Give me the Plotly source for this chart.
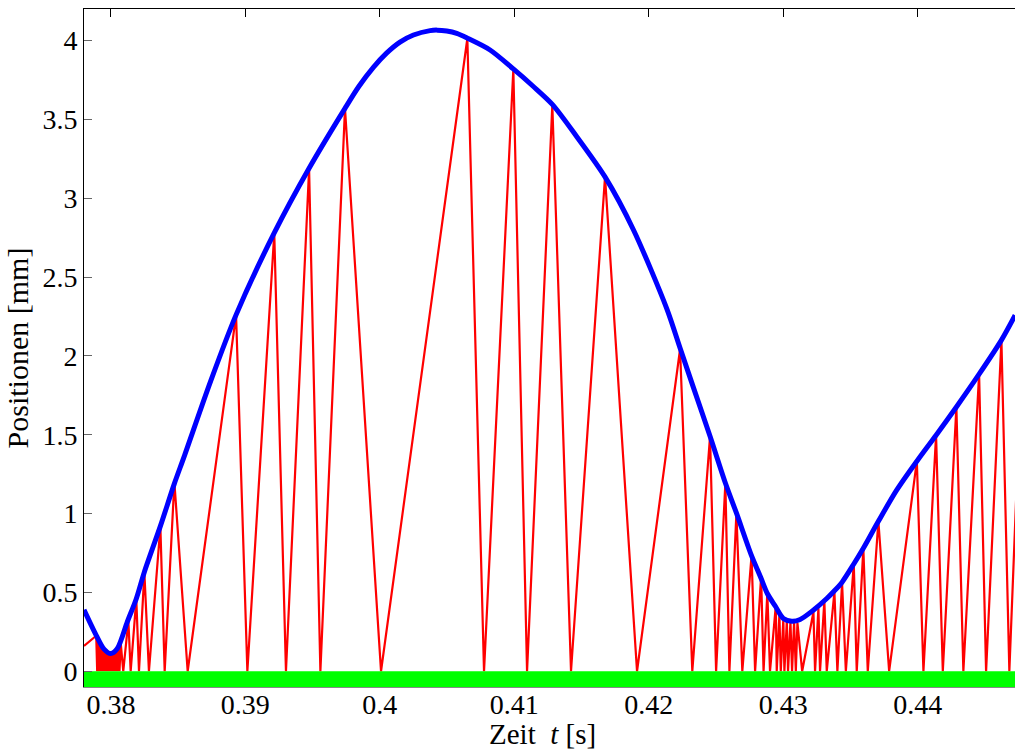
import plotly.graph_objects as go

# Blue curve: surface position (t [s], position [mm])
surface_t = [0.37800, 0.37891, 0.37949, 0.37999, 0.38048, 0.38122, 0.38189, 0.38249,
             0.38368, 0.38472, 0.38544, 0.38742, 0.38931, 0.39215, 0.39474, 0.39741,
             0.39845, 0.39952, 0.40050, 0.40150, 0.40250, 0.40374, 0.40426, 0.40498,
             0.40572, 0.40651, 0.40820, 0.40993, 0.41140, 0.41283, 0.41465, 0.41675,
             0.41886, 0.42134, 0.42233, 0.42332, 0.42456, 0.42570, 0.42652, 0.42763,
             0.42833, 0.42882, 0.42942, 0.43001, 0.43064, 0.43126, 0.43224, 0.43324,
             0.43381, 0.43438, 0.43525, 0.43596, 0.43708, 0.43845, 0.43994, 0.44137,
             0.44288, 0.44457, 0.44623, 0.44725]
surface_y = [0.39, 0.228, 0.14, 0.112, 0.144, 0.313, 0.46, 0.63,
             0.92, 1.19, 1.36, 1.84, 2.26, 2.78, 3.19, 3.57,
             3.71, 3.83, 3.92, 3.99, 4.035, 4.063, 4.066, 4.06,
             4.045, 4.015, 3.94, 3.82, 3.71, 3.595, 3.39, 3.135,
             2.80, 2.30, 2.05, 1.80, 1.49, 1.194, 1.004, 0.736,
             0.594, 0.493, 0.412, 0.335, 0.317, 0.328, 0.387, 0.461,
             0.51, 0.565, 0.68, 0.78, 0.951, 1.150, 1.332, 1.497,
             1.676, 1.884, 2.10, 2.258]

# Red zigzag: bouncing body (t [s], position [mm])
body_t = [0.37800, 0.37891, 0.37898,
          0.37905, 0.37912, 0.37920, 0.37927, 0.37935, 0.37942, 0.37950, 0.37957,
          0.37965, 0.37972, 0.37980, 0.37987, 0.37995, 0.38002, 0.38010, 0.38017,
          0.38025, 0.38032, 0.38040, 0.38047, 0.38055, 0.38064,
          0.38073, 0.38092, 0.38130, 0.38147, 0.38189, 0.38209, 0.38249, 0.38283,
          0.38368, 0.38400, 0.38472, 0.38571, 0.38931, 0.39015, 0.39215, 0.39302,
          0.39474, 0.39558, 0.39741, 0.40009, 0.40651, 0.40775, 0.40993, 0.41095,
          0.41283, 0.41422, 0.41675, 0.41913, 0.42233, 0.42324, 0.42456, 0.42501,
          0.42570, 0.42600, 0.42652, 0.42696, 0.42765, 0.42791, 0.42836, 0.42854,
          0.42882, 0.42902, 0.42945, 0.42952, 0.42972, 0.42982, 0.43001, 0.43009,
          0.43027, 0.43036, 0.43054, 0.43066, 0.43081, 0.43094, 0.43106, 0.43141,
          0.43225, 0.43237, 0.43262, 0.43274, 0.43306, 0.43324, 0.43381, 0.43403,
          0.43438, 0.43466, 0.43525, 0.43547, 0.43596, 0.43629, 0.43708, 0.43788,
          0.43994, 0.44043, 0.44137, 0.44187, 0.44288, 0.44340, 0.44457, 0.44509,
          0.44623, 0.44682, 0.44790]
body_y = [0.16, 0.225, 0.0,
          0.205, 0.0, 0.185, 0.0, 0.165, 0.0, 0.148, 0.0,
          0.133, 0.0, 0.122, 0.0, 0.115, 0.0, 0.112, 0.0,
          0.115, 0.0, 0.125, 0.0, 0.14, 0.0,
          0.18, 0.0, 0.32, 0.0, 0.457, 0.0, 0.626, 0.0,
          0.915, 0.0, 1.20, 0.0, 2.258, 0.0, 2.776, 0.0,
          3.184, 0.0, 3.569, 0.0, 4.013, 0.0, 3.816, 0.0,
          3.590, 0.0, 3.135, 0.0, 2.042, 0.0, 1.49, 0.0,
          1.194, 0.0, 1.004, 0.0, 0.736, 0.0, 0.60, 0.0,
          0.497, 0.0, 0.415, 0.0, 0.363, 0.0, 0.33, 0.0,
          0.318, 0.0, 0.313, 0.0, 0.312, 0.0, 0.307, 0.0,
          0.376, 0.0, 0.40, 0.0, 0.446, 0.0, 0.503, 0.0,
          0.56, 0.0, 0.68, 0.0, 0.778, 0.0, 0.951, 0.0,
          1.332, 0.0, 1.497, 0.0, 1.676, 0.0, 1.884, 0.0,
          2.099, 0.0, 2.34]

# Green ground band
ground_t = [0.378, 0.44724]
ground_top = [0.0, 0.0]
ground_bottom = [-0.1, -0.1]

x_ticks = [0.38, 0.39, 0.40, 0.41, 0.42, 0.43, 0.44]
x_ticktext = ["0.38", "0.39", "0.4", "0.41", "0.42", "0.43", "0.44"]
y_ticks = [0, 0.5, 1, 1.5, 2, 2.5, 3, 3.5, 4]
y_ticktext = ["0", "0.5", "1", "1.5", "2", "2.5", "3", "3.5", "4"]

FONT = "Liberation Serif, Times New Roman, serif"

fig = go.Figure()
fig.add_trace(go.Scatter(x=body_t, y=body_y, mode="lines",
                         line=dict(color="#ff0000", width=2.2), showlegend=False))
fig.add_trace(go.Scatter(x=surface_t, y=surface_y, mode="lines",
                         line=dict(color="#0000ff", width=5, shape="spline", smoothing=0.8),
                         showlegend=False))
fig.add_trace(go.Scatter(x=ground_t, y=ground_bottom, mode="lines",
                         line=dict(color="#00ff00", width=0), showlegend=False))
fig.add_trace(go.Scatter(x=ground_t, y=ground_top, mode="lines", fill="tonexty",
                         fillcolor="#00ff00", line=dict(color="#00ff00", width=0),
                         showlegend=False))

fig.update_layout(
    width=1015, height=749,
    margin=dict(l=84, r=0, t=9, b=62),
    paper_bgcolor="white", plot_bgcolor="white",
    font=dict(family=FONT, size=28, color="black"),
    xaxis=dict(range=[0.378, 0.44724], tickvals=x_ticks, ticktext=x_ticktext,
               showgrid=False, zeroline=False, showline=True, linecolor="#888888",
               linewidth=1, ticks="", ticklabelstandoff=-8,
               tickfont=dict(family=FONT, size=28)),
    xaxis2=dict(range=[0.378, 0.44724], matches="x", overlaying="x", side="top",
                tickvals=x_ticks, showticklabels=False, showgrid=False, zeroline=False,
                showline=True, linecolor="black", linewidth=1,
                ticks="inside", ticklen=8, tickcolor="black"),
    yaxis=dict(range=[-0.1, 4.2], tickvals=y_ticks, ticktext=y_ticktext,
               showgrid=False, zeroline=False, showline=True, linecolor="black",
               linewidth=1, ticks="inside", ticklen=8, tickcolor="#666666",
               tickfont=dict(family=FONT, size=28),
               title=dict(text="Positionen [mm]", font=dict(family=FONT, size=30),
                          standoff=4)),
    annotations=[dict(text="Zeit  <i>t</i> [s]", xref="paper", yref="paper",
                      x=0.492, y=-0.069, xanchor="center", yanchor="middle",
                      showarrow=False, font=dict(family=FONT, size=29))],
)
# invisible trace that activates the top axis
fig.add_trace(go.Scatter(x=ground_t, y=ground_top, xaxis="x2", mode="lines",
                         line=dict(width=0), hoverinfo="skip", showlegend=False))

fig.write_html("out.html", config={"displayModeBar": False},
               post_script="document.body.style.margin='0';document.body.style.overflow='hidden';")
